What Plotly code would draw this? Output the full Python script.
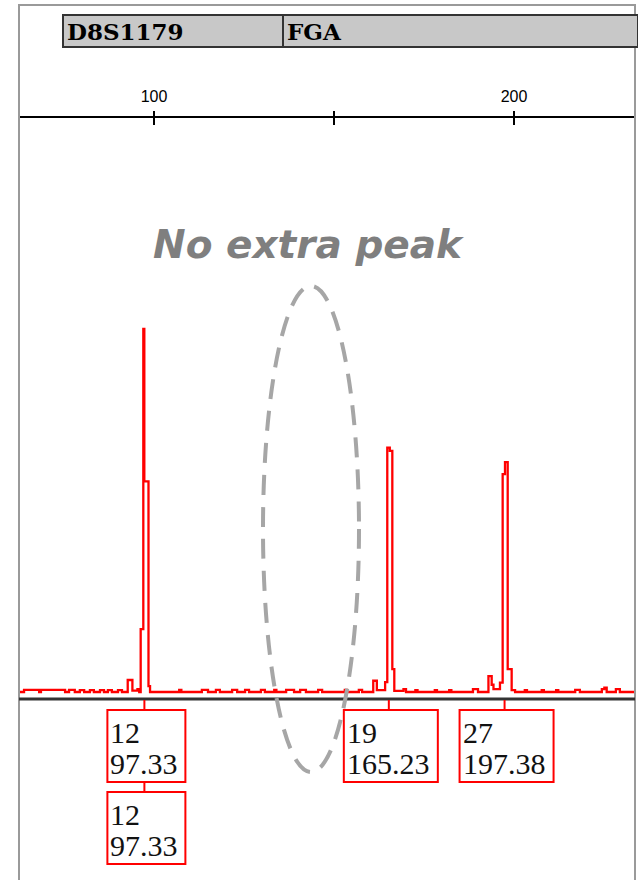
import plotly.graph_objects as go

# ---------------- data ----------------
locus_names = ["D8S1179", "FGA"]
tick_vals = [100, 150, 200]
tick_text = ["100", "", "200"]

# electropherogram trace (size in bp, signal in relative units), step-drawn
trace_bp = [62.5, 63.9, 68.1, 68.6, 75.3, 76.4, 78.0, 79.4, 80.6, 82.2,
            83.3, 85.0, 86.1, 87.2, 88.3, 90.0, 91.1, 92.7, 94.0, 95.4,
            95.9, 96.3, 97.03, 97.31, 98.47, 98.9, 107.0, 107.6, 113.3, 115.0,
            117.2, 118.3, 121.7, 123.1, 125.3, 126.4, 129.7, 130.8, 133.4, 134.0,
            136.7, 138.9, 140.6, 142.2, 145.6, 146.7, 153.0, 153.6, 156.9, 157.8,
            160.9, 161.9, 164.2, 164.8, 165.5, 166.2, 166.75, 169.3, 170.0, 172.6,
            173.2, 178.0, 178.6, 182.0, 182.6, 188.6, 190.0, 192.9, 193.8, 194.3,
            196.1, 196.85, 197.5, 198.25, 199.35, 200.3, 203.0, 203.6, 207.7, 208.3,
            211.7, 212.3, 217.0, 218.3, 224.4, 225.1, 225.75, 228.3, 229.4, 233.7]
trace_rfu = [0, 0.6, 0, 0.6, 0, 0.6, 0, 0.5, 0, 0.5,
             0, 0.5, 0, 0.5, 0, 0.5, 0, 3.3, 0.4, 0.8,
             0, 17.3, 100, 58, 1.6, 0, 0.6, 0, 0.6, 0,
             0.6, 0, 0.6, 0, 0.6, 0, 0.6, 0, 0.6, 0,
             0.6, 0, 0.6, 0, 0.6, 0, 0.6, 0, 0.6, 0,
             3.1, 0.5, 2.7, 67.3, 66.4, 6.3, 0.3, 0.8, 0, 0.5,
             0, 0.5, 0, 0.5, 0, 0.8, 0, 4.4, 2.0, 0.8,
             2.6, 60, 63.3, 6.3, 0.5, 0, 0.5, 0, 0.5, 0,
             0.5, 0, 0.6, 0, 0.8, 1.2, 0, 0.8, 0, 0]
assert len(trace_bp) == len(trace_rfu)

# allele call labels: (allele, size, row)
call_alleles = ["12", "12", "19", "27"]
call_sizes = [97.33, 97.33, 165.23, 197.38]
call_rows = [0, 1, 0, 0]

annotation_text = "No extra peak"

# ---------------- layout helpers ----------------
W, H = 638, 880
X0_PX, X1_PX = 19, 635          # plot area horizontal extent
Y_TOP_PX, Y_BOT_PX = 118, 699   # plot area vertical extent
BP0, PX_PER_BP = 100, 3.6       # 100 bp at pixel 154
BP_AT_PX154 = 154
x_range = [BP0 + (X0_PX - BP_AT_PX154) / PX_PER_BP, BP0 + (X1_PX - BP_AT_PX154) / PX_PER_BP]
base_px, px_per_unit = 692, 3.63
y_range = [-(Y_BOT_PX - base_px) / px_per_unit, (base_px - Y_TOP_PX) / px_per_unit]


def fx(p):
    return p / W


def fy(p):
    return 1 - p / H


def bp_to_px(v):
    return BP_AT_PX154 + (v - BP0) * PX_PER_BP


fig = go.Figure()
fig.add_trace(go.Scatter(x=trace_bp, y=trace_rfu, mode="lines", line_shape="hv",
                         line=dict(color="#ff0000", width=2.3), hoverinfo="skip",
                         showlegend=False))

shapes = []
annots = []

# outer frame
shapes.append(dict(type="rect", xref="paper", yref="paper", x0=fx(X0_PX), x1=fx(X1_PX),
                   y0=fy(H + 5), y1=fy(5), line=dict(color="#9a9a9a", width=2)))

# header bar with locus names
shapes.append(dict(type="rect", xref="paper", yref="paper", x0=fx(63), x1=fx(X1_PX + 3),
                   y0=fy(47), y1=fy(15), fillcolor="#c8c8c8",
                   line=dict(color="#333333", width=2)))
shapes.append(dict(type="line", xref="paper", yref="paper", x0=fx(283), x1=fx(283),
                   y0=fy(47), y1=fy(15), line=dict(color="#333333", width=2)))
for name, left in zip(locus_names, [65, 285]):
    annots.append(dict(xref="paper", yref="paper", x=fx(left), y=fy(31), xanchor="left",
                       yanchor="middle", text="<b>" + name + "</b>", showarrow=False,
                       font=dict(family="DejaVu Serif", size=23, color="#000000")))

# lower half of the scale ticks (crossing the axis line)
for v in tick_vals:
    shapes.append(dict(type="line", xref="x", yref="paper", x0=v, x1=v,
                       y0=fy(Y_TOP_PX), y1=fy(Y_TOP_PX + 7),
                       line=dict(color="#000000", width=2)))

# baseline (bottom axis line)
shapes.append(dict(type="line", xref="paper", yref="paper", x0=fx(X0_PX), x1=fx(X1_PX),
                   y0=fy(Y_BOT_PX), y1=fy(Y_BOT_PX), line=dict(color="#333333", width=3)))

# allele call boxes
for allele, size, row in zip(call_alleles, call_sizes, call_rows):
    cx = bp_to_px(size)
    wbox = 16 * len(f"{size:.2f}") - 2
    left = cx - (wbox / 2 - 2)
    top = 710 + row * 82
    bot = top + 72
    conn_top = Y_BOT_PX + 1 if row == 0 else top - 10
    shapes.append(dict(type="line", xref="x", yref="paper", x0=size, x1=size,
                       y0=fy(conn_top), y1=fy(top), line=dict(color="#ff0000", width=2)))
    shapes.append(dict(type="rect", xref="paper", yref="paper", x0=fx(left), x1=fx(left + wbox),
                       y0=fy(bot), y1=fy(top), fillcolor="white",
                       line=dict(color="#ff0000", width=2)))
    for i, t in enumerate([allele, f"{size:.2f}"]):
        annots.append(dict(xref="paper", yref="paper", x=fx(left + 1), y=fy(top + 22 + 31 * i),
                           xanchor="left", yanchor="middle", text=t, showarrow=False,
                           font=dict(family="Liberation Serif", size=30, color="#111111")))

# dashed ellipse + note
shapes.append(dict(type="circle", xref="paper", yref="paper", x0=fx(263), x1=fx(359),
                   y0=fy(772), y1=fy(286), line=dict(color="#a6a6a6", width=4, dash="20px,12px")))
annots.append(dict(xref="paper", yref="paper", x=fx(308), y=fy(245), xanchor="center",
                   yanchor="middle", text="<b><i>" + annotation_text + "</i></b>", showarrow=False,
                   font=dict(family="DejaVu Sans", size=39, color="#7f7f7f")))

fig.update_layout(
    width=W, height=H, margin=dict(l=0, r=0, t=0, b=0),
    paper_bgcolor="white", plot_bgcolor="white",
    xaxis=dict(domain=[fx(X0_PX), fx(X1_PX)], range=x_range, side="top",
               showline=True, linecolor="#000000", linewidth=2, showgrid=False, zeroline=False,
               ticks="outside", ticklen=5, tickwidth=2, tickcolor="#000000",
               tickvals=tick_vals, ticktext=tick_text, ticklabelstandoff=3,
               tickfont=dict(family="Liberation Sans", size=16, color="#000000")),
    yaxis=dict(domain=[fy(Y_BOT_PX), fy(Y_TOP_PX)], range=y_range, visible=False),
    shapes=shapes, annotations=annots,
)

fig.write_html("out.html", config={"displayModeBar": False},
               post_script="document.body.style.margin='0';")
